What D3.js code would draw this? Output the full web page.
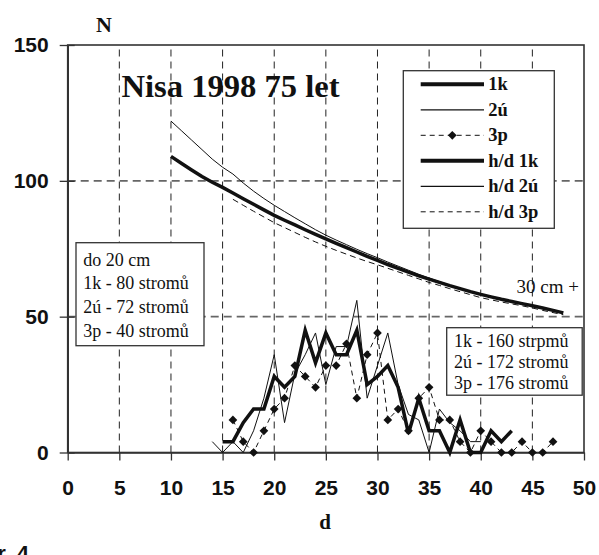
<!DOCTYPE html>
<html>
<head>
<meta charset="utf-8">
<script src="https://cdn.jsdelivr.net/npm/d3@7"></script>
<style>
  body { margin: 0; background: #fff; }
  .tick text { font-family: "Liberation Sans", Arial, sans-serif; font-weight: bold; font-size: 21px; fill: #111; }
  .serif { font-family: "Liberation Serif", "Times New Roman", serif; fill: #111; }
</style>
</head>
<body>
<div id="chart"></div>
<script>
// diameter classes (cm) and tree counts
const d1k = [15,16,17,18,19,20,21,22,23,24,25,26,27,28,29,30,31,32,33,34,35,36,37,38,39,40,41,42,43];
const n1k = [4,4,11,16,16,28,24,28,45,33,44,36,36,45,25,28,32,24,7,20,8,8,0,12,0,0,8,4,8];

const d2u = [14,15,16,17,18,19,20,21,22,23,24,25,26,27,28,29,30,31,32,33,34,35,36,37,38,39,40];
const n2u = [4,0,4,0,8,20,36,11,29,36,44,25,39,39,56,20,32,44,25,14,12,0,16,11,8,4,4];

const d3p = [16,17,18,19,20,21,22,23,24,25,26,27,28,29,30,31,32,33,34,35,36,37,38,39,40,41,42,43,44,45,46,47];
const n3p = [12,4,0,8,16,20,32,28,24,32,32,40,20,36,44,12,16,8,20,24,12,12,4,0,8,4,0,0,4,0,0,4];

// h/d model curves
const dHd1k = [10,11,12,13,14,15,16,17,18,19,20,21,22,23,24,25,26,27,28,29,30,31,32,33,34,35,36,37,38,39,40,41,42,43,44,45,46,47,48];
const nHd1k = [109,106.5,104,101.6,99.5,97.6,95.5,93.4,91.4,89.3,87.3,85.5,83.8,82,80.3,78.6,77,75.4,73.8,72.2,70.7,69.2,67.8,66.4,65,63.8,62.6,61.4,60.3,59.2,58.2,57.3,56.4,55.6,54.8,54,53.2,52.3,51.4];

const dHd2u = [10,11,12,13,14,15,16,17,18,19,20,21,22,23,24,25,26,27,28,29,30,31,32,33,34,35,36,37,38,39,40,41,42,43,44,45,46,47];
const nHd2u = [122,118.5,115,111.5,108,105,102.5,99.2,96.2,93.5,91,88.7,86.4,84.2,82,80,78.2,76.5,74.8,73.2,71.7,70.1,68.6,67.1,65.6,64.2,62.9,61.6,60.4,59.3,58.3,57.3,56.4,55.5,54.7,53.9,53,52.2];

const dHd3p = [16,17,18,19,20,21,22,23,24,25,26,27,28,29,30,31,32,33,34,35,36,37,38,39,40,41,42,43,44,45,46,47,48];
const nHd3p = [93.2,91,88.8,86.7,84.6,82.8,81,79.2,77.5,75.9,74.4,73,71.6,70.3,69.1,67.8,66.5,65.2,63.9,62.6,61.5,60.3,59.2,58.1,57,56.2,55.4,54.7,54,53.2,52.3,51.5,50.7];

const xTicks = [0,5,10,15,20,25,30,35,40,45,50];
const yTicks = [0,50,100,150];

const legendLabels = ["1k","2ú","3p","h/d 1k","h/d 2ú","h/d 3p"];
const leftBoxLines = ["do 20 cm","1k - 80 stromů","2ú - 72 stromů","3p - 40 stromů"];
const rightBoxLines = ["1k - 160 strpmů","2ú - 172 stromů","3p - 176 stromů"];

const width = 599, height = 555;

const svg = d3.select("#chart").append("svg")
    .attr("width", width)
    .attr("height", height)
    .style("display", "block");

const x = d3.scaleLinear().domain([0, 50]).range([67.7, 584]);
const y = d3.scaleLinear().domain([0, 150]).range([452.5, 45]);

// gridlines
svg.append("g").selectAll("line")
    .data(xTicks.filter(t => t > 0 && t < 50))
    .enter().append("line")
    .attr("x1", d => x(d)).attr("x2", d => x(d))
    .attr("y1", y(0)).attr("y2", y(150))
    .attr("stroke", "#222").attr("stroke-width", 1)
    .attr("stroke-dasharray", "7,5");
svg.append("g").selectAll("line")
    .data([50, 100])
    .enter().append("line")
    .attr("x1", x(0)).attr("x2", x(50))
    .attr("y1", d => y(d)).attr("y2", d => y(d))
    .attr("stroke", "#666").attr("stroke-width", 1.6)
    .attr("stroke-dasharray", "8,5");

// frame
svg.append("rect")
    .attr("x", x(0)).attr("y", y(150))
    .attr("width", x(50) - x(0)).attr("height", y(0) - y(150))
    .attr("fill", "none").attr("stroke", "#333").attr("stroke-width", 1.6);

// axes
const xAxis = d3.axisBottom(x).tickValues(xTicks).tickSize(8).tickSizeOuter(0).tickPadding(20);
svg.append("g")
    .attr("transform", "translate(0," + y(0) + ")")
    .call(xAxis)
    .call(g => g.select(".domain").attr("stroke", "#333").attr("stroke-width", 1.6))
    .call(g => g.selectAll(".tick line").attr("stroke", "#333").attr("stroke-width", 1.3));

const yAxis = d3.axisLeft(y).tickValues(yTicks).tickSize(8).tickSizeOuter(0).tickPadding(11);
svg.append("g")
    .attr("transform", "translate(" + x(0) + ",0)")
    .call(yAxis)
    .call(g => g.select(".domain").attr("stroke", "#333").attr("stroke-width", 1.6))
    .call(g => g.selectAll(".tick line").attr("stroke", "#333").attr("stroke-width", 1.3))
    .call(g => g.selectAll(".tick").append("line")
        .attr("x2", 7).attr("stroke", "#333").attr("stroke-width", 1.3));

const line = d3.line().x(d => x(d[0])).y(d => y(d[1]));
const pairs = (ds, ns) => ds.map((d, i) => [d, ns[i]]);

// h/d curves
svg.append("path").datum(pairs(dHd2u, nHd2u)).attr("d", line)
    .attr("fill", "none").attr("stroke", "#111").attr("stroke-width", 1);
svg.append("path").datum(pairs(dHd3p, nHd3p)).attr("d", line)
    .attr("fill", "none").attr("stroke", "#111").attr("stroke-width", 1)
    .attr("stroke-dasharray", "6,4");
svg.append("path").datum(pairs(dHd1k, nHd1k)).attr("d", line)
    .attr("fill", "none").attr("stroke", "#111").attr("stroke-width", 3.5);

// distributions
svg.append("path").datum(pairs(d3p, n3p)).attr("d", line)
    .attr("fill", "none").attr("stroke", "#111").attr("stroke-width", 1)
    .attr("stroke-dasharray", "5,4");
svg.append("path").datum(pairs(d2u, n2u)).attr("d", line)
    .attr("fill", "none").attr("stroke", "#111").attr("stroke-width", 1);
svg.append("path").datum(pairs(d1k, n1k)).attr("d", line)
    .attr("fill", "none").attr("stroke", "#111").attr("stroke-width", 3.5)
    .attr("stroke-linejoin", "miter");

// diamond markers: squares turned by 45 degrees
const diamond = d3.symbol().type(d3.symbolSquare).size(38);
svg.append("g").selectAll("path")
    .data(pairs(d3p, n3p))
    .enter().append("path")
    .attr("d", diamond)
    .attr("transform", d => "translate(" + x(d[0]) + "," + y(d[1]) + ") rotate(45)")
    .attr("fill", "#111");

// text boxes
function textBox(lines, bx, by, bw, bh, tx, ty, step) {
    svg.append("rect")
        .attr("x", bx).attr("y", by).attr("width", bw).attr("height", bh)
        .attr("fill", "#fff").attr("stroke", "#333").attr("stroke-width", 1.3);
    svg.append("g").selectAll("text")
        .data(lines)
        .enter().append("text")
        .attr("class", "serif")
        .attr("x", tx).attr("y", (d, i) => ty + i * step)
        .attr("font-size", 18)
        .text(d => d);
}
textBox(leftBoxLines, 76, 242.7, 128, 103, 83.3, 265.5, 23.9);
textBox(rightBoxLines, 446.7, 327.7, 135.5, 67.5, 454, 347, 20.8);

// legend
const lg = svg.append("g");
lg.append("rect")
    .attr("x", 403.3).attr("y", 70.7).attr("width", 151).attr("height", 157.6)
    .attr("fill", "#fff").attr("stroke", "#333").attr("stroke-width", 1.3);
const legendStyle = [
    {w: 4, dash: null}, {w: 1.2, dash: null}, {w: 1, dash: "5,4"},
    {w: 4, dash: null}, {w: 1.2, dash: null}, {w: 1, dash: "5,4"}
];
const items = lg.selectAll(".item")
    .data(legendLabels)
    .enter().append("g")
    .attr("transform", (d, i) => "translate(0," + (84.3 + i * 25.5) + ")");
items.append("line")
    .attr("x1", 420.7).attr("x2", 484)
    .attr("stroke", "#111")
    .attr("stroke-width", (d, i) => legendStyle[i].w)
    .attr("stroke-dasharray", (d, i) => legendStyle[i].dash);
items.filter((d, i) => i === 2).append("path")
    .attr("d", diamond)
    .attr("transform", "translate(452.3,0) rotate(45)")
    .attr("fill", "#111");
items.append("text")
    .attr("class", "serif")
    .attr("x", 488.3).attr("y", 6)
    .attr("font-size", 18.5).attr("font-weight", "bold")
    .text(d => d);

// labels
svg.append("text").attr("class", "serif")
    .attr("x", 121.5).attr("y", 97)
    .attr("font-size", 31).attr("font-weight", "bold")
    .attr("textLength", 218).attr("lengthAdjust", "spacingAndGlyphs")
    .text("Nisa 1998 75 let");
svg.append("text").attr("class", "serif")
    .attr("x", 516.5).attr("y", 292.5)
    .attr("font-size", 19)
    .text("30 cm +");
svg.append("text").attr("class", "serif")
    .attr("x", 104).attr("y", 32).attr("text-anchor", "middle")
    .attr("font-size", 22).attr("font-weight", "bold")
    .text("N");
svg.append("text").attr("class", "serif")
    .attr("x", 325).attr("y", 529).attr("text-anchor", "middle")
    .attr("font-size", 21).attr("font-weight", "bold")
    .text("d");
// figure caption, cut by the lower edge as in the source scan
svg.append("text")
    .attr("x", 29).attr("y", 561).attr("text-anchor", "end")
    .attr("font-family", "Liberation Sans, Arial, sans-serif")
    .attr("font-size", 22).attr("font-weight", "bold").attr("fill", "#111")
    .text("Obr. 4");
</script>
</body>
</html>
